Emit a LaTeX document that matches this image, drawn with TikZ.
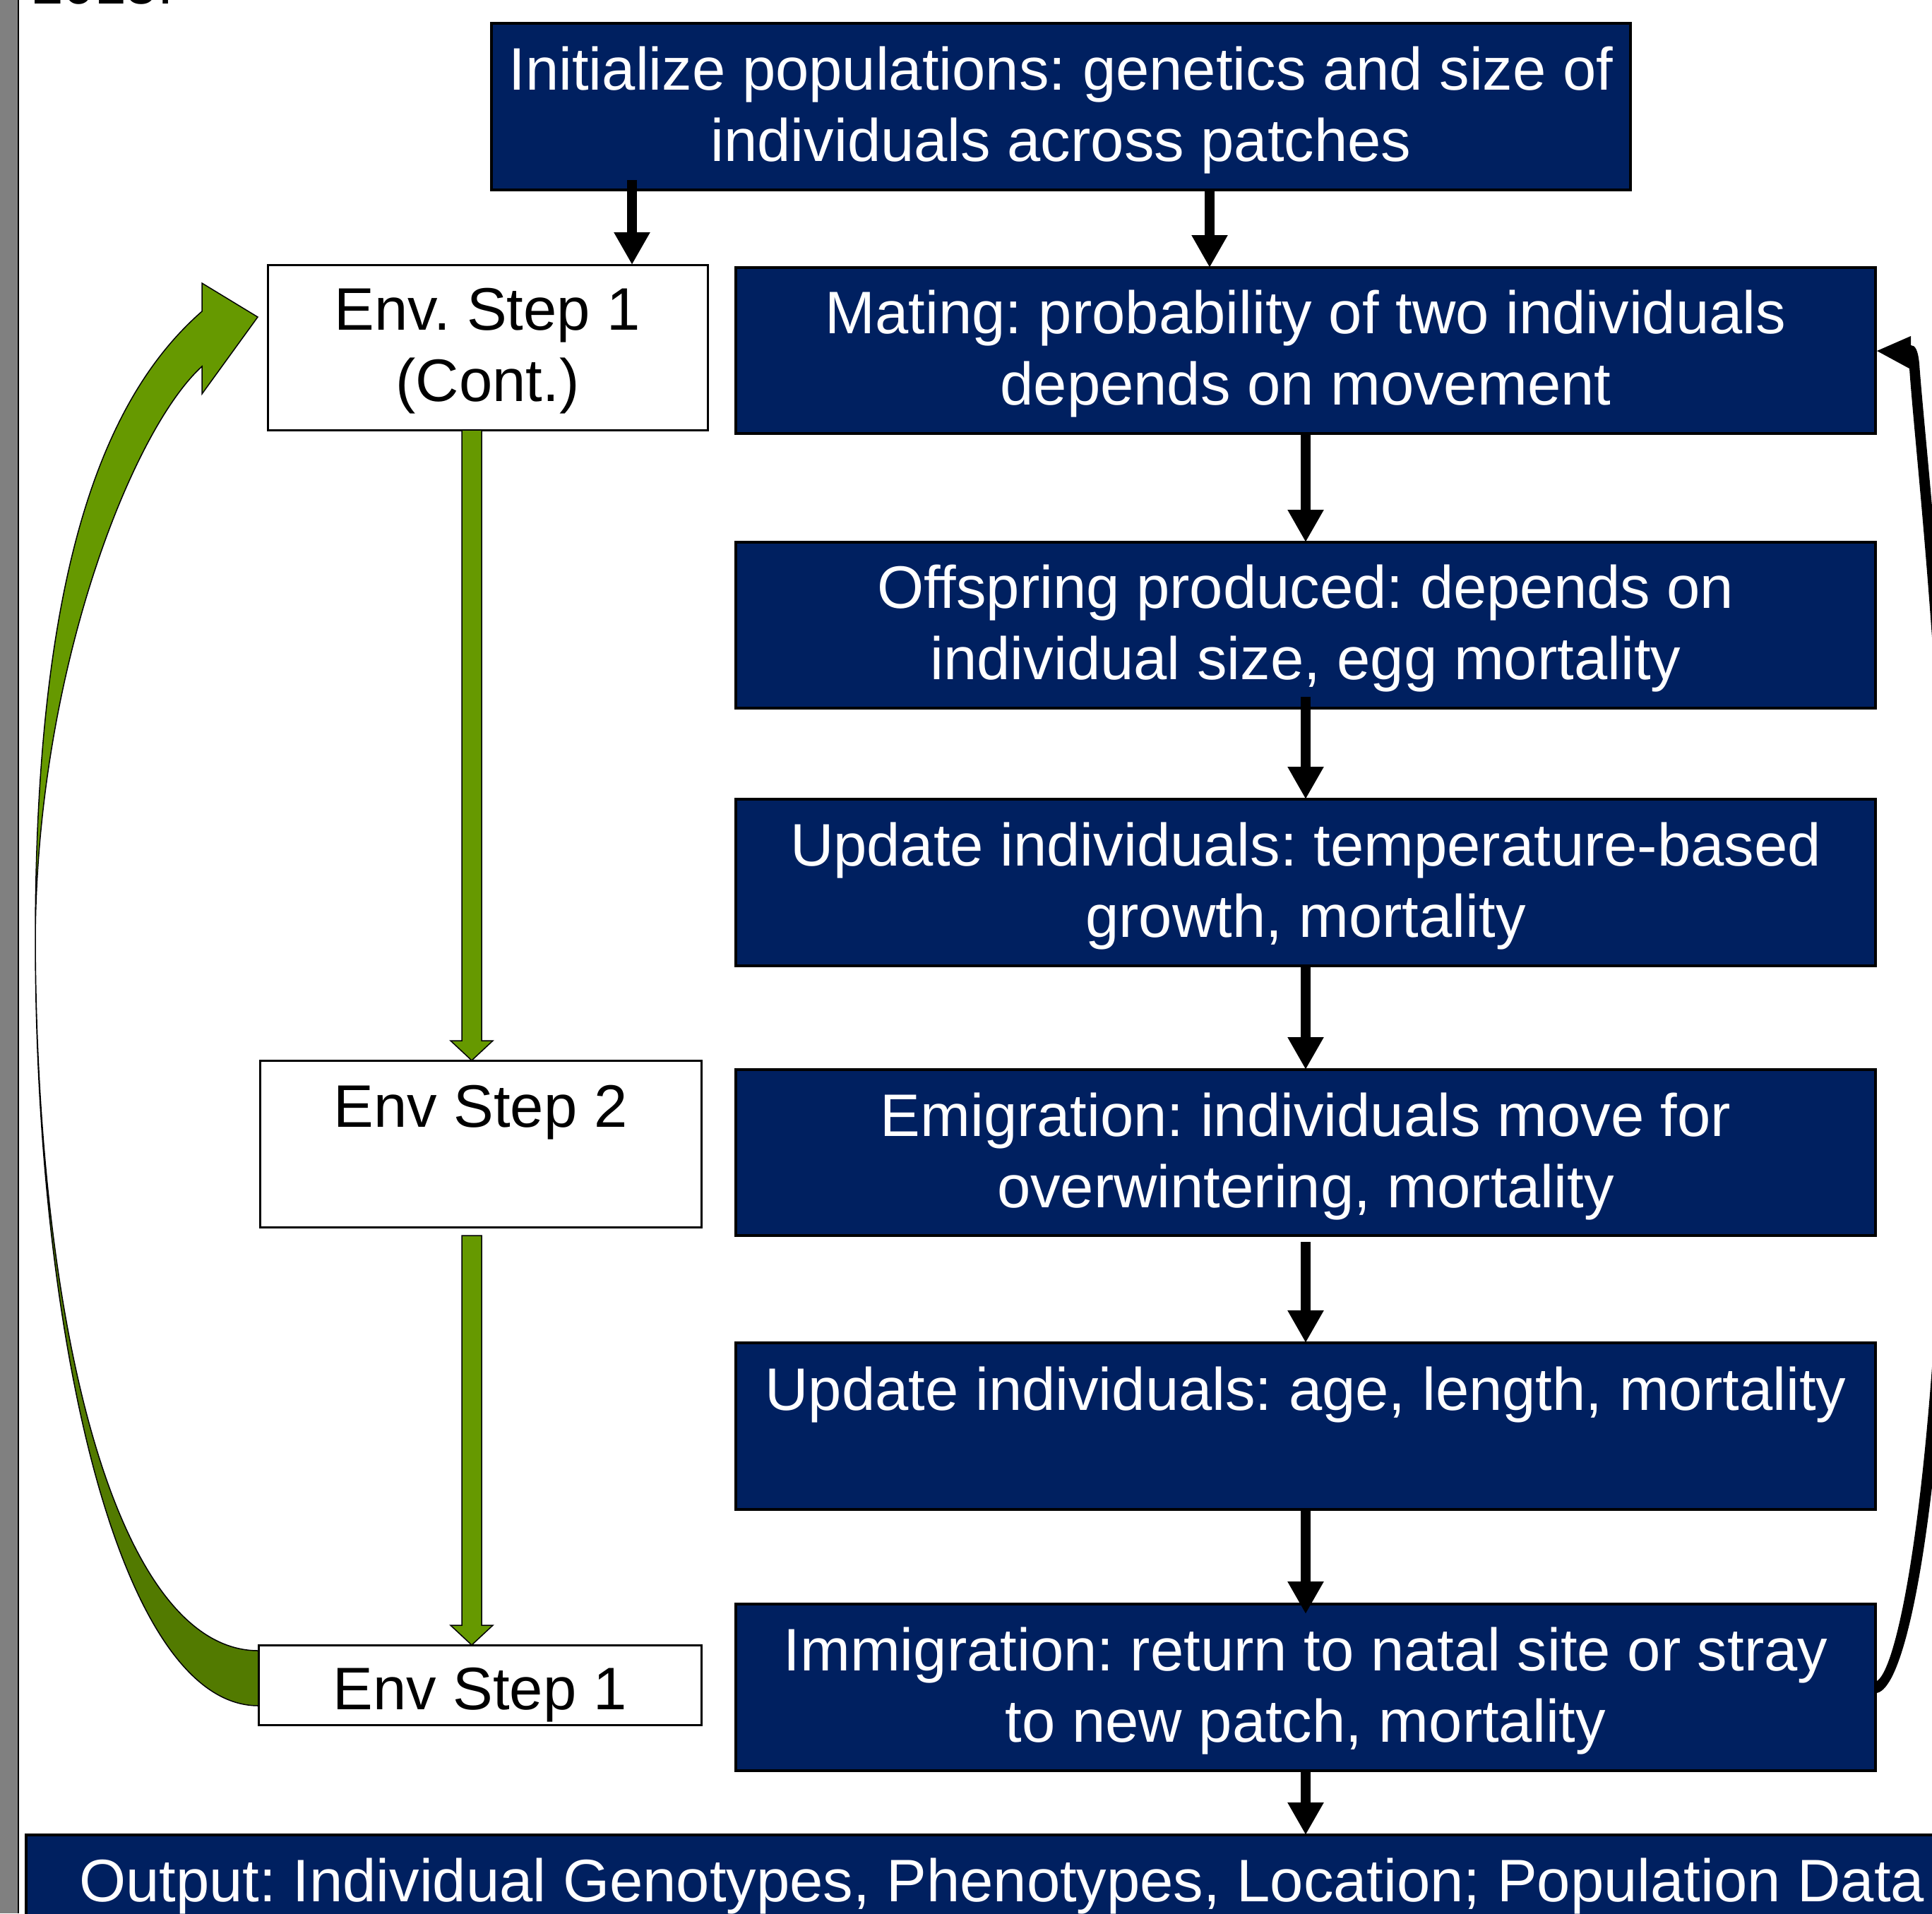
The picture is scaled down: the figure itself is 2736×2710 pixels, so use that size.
\documentclass[tikz,border=0pt]{standalone}
\usepackage{fontspec}
\setmainfont{Liberation Sans}
\usetikzlibrary{arrows.meta,calc}
\definecolor{boxblue}{RGB}{0,32,96}
\definecolor{grn}{RGB}{102,153,0}
\definecolor{grndark}{RGB}{82,122,0}
\definecolor{barg}{RGB}{128,128,128}
\newcommand{\dgfont}{\fontsize{85}{101}\selectfont}
\frenchspacing
\begin{document}
\begin{tikzpicture}[x=1pt,y=-1pt,
  bluebox/.style={draw=black, line width=3.5pt, fill=boxblue, inner sep=0pt, outer sep=0pt},
  whitebox/.style={draw=black, line width=3pt, fill=white, inner sep=0pt, outer sep=0pt},
  txtw/.style={text=white, font=\dgfont, align=center, inner sep=0pt},
  txtb/.style={text=black, font=\dgfont, align=center, inner sep=0pt},
  blk/.style={line width=14pt, -{Triangle[width=48pt,length=46pt]}},
  grnarrow/.style={fill=grn, draw=black, line width=1.5pt, line join=miter},
  grncurve/.style={draw=black, line width=1.5pt, line join=miter},
]
\useasboundingbox (0,0) rectangle (2736,2710);
\clip (0,0) rectangle (2736,2710);
\fill[white] (0,0) rectangle (2736,2710);

% left grey margin
\fill[barg] (0,0) rectangle (25.5,2710);
\draw[line width=1.5pt] (26,0) -- (26,2710);
\node[anchor=base west, font=\fontsize{80}{96}\selectfont, inner sep=0pt] (yr) at (45,5) {2015.};

% curved green arrow (left loop)
\filldraw[grncurve, fill=grndark] (50,1330) .. controls (50,1900) and (170,2416) .. (366,2416)
   -- (366,2338) .. controls (170,2338) and (52,1900) .. (50,1330) -- cycle;
\filldraw[grncurve, fill=grn] (50,1330) .. controls (50,800) and (150,560) .. (286,441)
   -- (286,401) -- (365,449) -- (286,558) -- (286,519)
   .. controls (187,609) and (52,950) .. (50,1330) -- cycle;

% boxes
\node[bluebox, minimum width=1613pt, minimum height=236pt] (init) at (1502.5,151) {};
\node[whitebox, minimum width=623pt, minimum height=234pt] (e1c) at (690.5,492) {};
\node[bluebox, minimum width=1614pt, minimum height=235pt] (mating) at (1849,496.5) {};
\node[bluebox, minimum width=1614pt, minimum height=235pt] (offs) at (1849,885.5) {};
\node[bluebox, minimum width=1614pt, minimum height=236pt] (upd1) at (1849,1250) {};
\node[bluebox, minimum width=1614pt, minimum height=235pt] (emig) at (1849,1632.5) {};
\node[bluebox, minimum width=1614pt, minimum height=236pt] (upd2) at (1849,2020) {};
\node[bluebox, minimum width=1614pt, minimum height=236pt] (immig) at (1849,2390) {};
\node[whitebox, minimum width=625pt, minimum height=236pt] (e2) at (680.5,1620) {};
\node[whitebox, minimum width=627pt, minimum height=113pt] (e1b) at (679.5,2386.5) {};
\node[bluebox, minimum width=2763pt, minimum height=251pt] (output) at (1418.5,2724.5) {};

% texts
\node[txtw] (initt) at ($(init)+(0,5)$) {Initialize populations: genetics and size of\\individuals across patches};
\node[txtb] (e1ct) at ($(e1c)+(0,5)$) {Env. Step 1\\(Cont.)};
\node[txtw] (matingt) at ($(mating)+(0,5)$) {Mating: probability of two individuals\\depends on movement};
\node[txtw] (offst) at ($(offs)+(0,5)$) {Offspring produced: depends on\\individual size, egg mortality};
\node[txtw] (upd1t) at ($(upd1)+(0,5)$) {Update individuals: temperature-based\\growth, mortality};
\node[txtw] (emigt) at ($(emig)+(0,5)$) {Emigration: individuals move for\\overwintering, mortality};
\node[txtw] (upd2t) at ($(upd2)+(0,6)$) {Update individuals: age, length, mortality\\\phantom{p}};
\node[txtw] (immigt) at ($(immig)+(0,5)$) {Immigration: return to natal site or stray\\to new patch, mortality};
\node[txtb] (e2t) at ($(e2)+(0,6)$) {Env Step 2\\\phantom{p}};
\node[txtb] (e1bt) at ($(e1b)+(0,14.5)$) {Env Step 1};
\node[txtw, anchor=base west] (outt) at (112,2693) {Output: Individual Genotypes, Phenotypes, Location; Population Data};

% black arrows
\coordinate (a1) at (895,0);
\coordinate (a2) at (1713,0);
\draw[blk] ($(a1 |- init.south)+(0,-14)$) -- (a1 |- e1c.north);
\draw[blk] (a2 |- init.south) -- (a2 |- mating.north);
\draw[blk] (mating.south) -- (offs.north);
\draw[blk] ($(offs.south)+(0,-16)$) -- (upd1.north);
\draw[blk] (upd1.south) -- (emig.north);
\draw[blk] ($(emig.south)+(0,9)$) -- (upd2.north);
\draw[blk] (upd2.south) -- ($(immig.north)+(0,14)$);
\draw[blk] (immig.south) -- (immig.south |- output.north);

% green straight arrows
\coordinate (gx) at (668,0);
\draw[grnarrow] ($(gx |- e1c.south)+(-14,0)$) -- ($(gx |- e2.north)+(-14,-28)$)
  -- ($(gx |- e2.north)+(-30,-28)$) -- (gx |- e2.north) -- ($(gx |- e2.north)+(30,-28)$)
  -- ($(gx |- e2.north)+(14,-28)$) -- ($(gx |- e1c.south)+(14,0)$) -- cycle;
\draw[grnarrow] ($(gx |- e2.south)+(-14,12)$) -- ($(gx |- e1b.north)+(-14,-28)$)
  -- ($(gx |- e1b.north)+(-30,-28)$) -- (gx |- e1b.north) -- ($(gx |- e1b.north)+(30,-28)$)
  -- ($(gx |- e1b.north)+(14,-28)$) -- ($(gx |- e2.south)+(14,12)$) -- cycle;

% black curved return arrow (right)
\fill[black] (2706,476) -- (2658,497) -- (2704,522)
  .. controls (2712,640) and (2755,1000) .. (2755,1400)
  .. controls (2752,2050) and (2690,2378) .. (2655,2382)
  -- (2657,2398)
  .. controls (2712,2392) and (2770,2000) .. (2770,1400)
  .. controls (2770,1000) and (2727,640) .. (2718,515)
  .. controls (2716,495) and (2712,489) .. (2706,489) -- cycle;
\end{tikzpicture}
\end{document}
